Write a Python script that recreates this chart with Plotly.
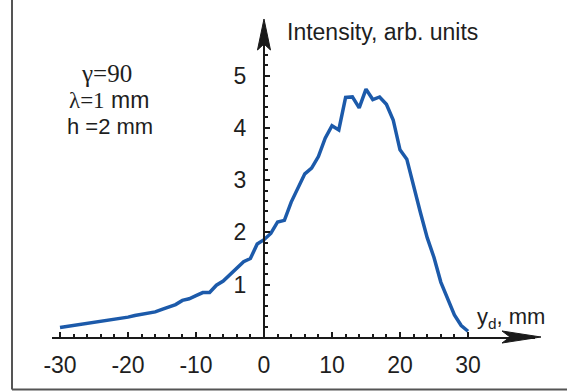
import plotly.graph_objects as go

# ---- data ----
y_d = list(range(-30, 31))
intensity = [0.18, 0.20, 0.22, 0.24, 0.25, 0.28, 0.30, 0.32, 0.34, 0.36,
             0.38, 0.41, 0.43, 0.45, 0.48, 0.53, 0.57, 0.62, 0.70, 0.73,
             0.79, 0.85, 0.85, 0.99, 1.07, 1.20, 1.31, 1.44, 1.50, 1.78,
             1.86, 1.98, 2.20, 2.23, 2.58, 2.84, 3.12, 3.23, 3.45, 3.80,
             4.04, 3.96, 4.58, 4.59, 4.38, 4.74, 4.54, 4.59, 4.45, 4.15,
             3.58, 3.40, 2.86, 2.38, 1.90, 1.52, 1.05, 0.72, 0.42, 0.22, 0.11]
x_ticks = [-30, -20, -10, 0, 10, 20, 30]
x_ticktext = ["-30", "-20", "-10", "0", "10", "20", "30"]
y_ticks = [1, 2, 3, 4, 5]
x_minor = list(range(-30, 31, 2))
y_minor = [round(0.2 * i, 1) for i in range(1, 29)]

# ---- layout geometry ----
W, H = 567, 391
L, R, T, B = 52, 32, 28, 54
PW, PH = W - L - R, H - T - B
X_PX_PER_UNIT = 6.8
Y_PX_PER_UNIT = 52.3
X0_PX = 264
x_range = [(L - X0_PX) / X_PX_PER_UNIT, (W - R - X0_PX) / X_PX_PER_UNIT]
y_range = [0, PH / Y_PX_PER_UNIT]


def px(xp):
    return (xp - L) / PW


def py(yp):
    return (H - B - yp) / PH


FONT = "Liberation Sans, Arial, sans-serif"
SERIF = "Liberation Serif, Times New Roman, serif"
AX = "#1a1a1a"
TXT = "#1e1e1e"

fig = go.Figure()
fig.add_trace(go.Scatter(x=y_d, y=intensity, mode="lines",
                         line=dict(color="#1c5aaa", width=3.5),
                         showlegend=False, hoverinfo="skip"))

fig.update_layout(
    width=W, height=H,
    margin=dict(l=L, r=R, t=T, b=B, autoexpand=False),
    paper_bgcolor="white", plot_bgcolor="white",
    font=dict(family=FONT, size=23, color=TXT),
    xaxis=dict(range=x_range, domain=[0, 1], showgrid=False, zeroline=False,
               showline=True, linecolor=AX, linewidth=2,
               ticks="inside", ticklen=5, tickwidth=2, tickcolor=AX,
               tickvals=x_ticks, ticktext=x_ticktext, ticklabelstandoff=6,
               tickfont=dict(size=23, family=FONT, color=TXT),
               minor=dict(tickvals=x_minor, ticks="inside", ticklen=3,
                          tickwidth=1.5, tickcolor=AX),
               automargin=False, fixedrange=True),
    yaxis=dict(range=y_range, domain=[0, 1], anchor="free",
               position=(X0_PX - L) / PW, showgrid=False, zeroline=False,
               showline=True, linecolor=AX, linewidth=2,
               ticks="inside", ticklen=5, tickwidth=2, tickcolor=AX,
               tickvals=y_ticks, ticklabelstandoff=12,
               tickfont=dict(size=23, family=FONT, color=TXT),
               minor=dict(tickvals=y_minor, ticks="inside", ticklen=3,
                          tickwidth=1.5, tickcolor=AX),
               automargin=False, fixedrange=True),
)

# axis arrowheads
def P(xp, yp):
    return f"{px(xp):.5f},{py(yp):.5f}"

fig.add_shape(type="path", xref="paper", yref="paper",
              path=f"M{P(264, 19)} L{P(257.5, 50)} L{P(264, 44)} L{P(270.5, 50)} Z",
              fillcolor=AX, line=dict(color=AX, width=1))
fig.add_shape(type="path", xref="paper", yref="paper",
              path=f"M{P(541, 337)} L{P(502, 331)} L{P(510, 337)} L{P(502, 343)} Z",
              fillcolor=AX, line=dict(color=AX, width=1))

# frame (left + bottom)
fig.add_shape(type="line", xref="paper", yref="paper",
              x0=px(12), y0=py(-2), x1=px(12), y1=py(389.5),
              line=dict(color="#555", width=2))
fig.add_shape(type="line", xref="paper", yref="paper",
              x0=px(12), y0=py(389.5), x1=px(570), y1=py(389.5),
              line=dict(color="#555", width=2))

# labels
fig.add_annotation(xref="paper", yref="paper", x=px(285), y=py(32),
                   xanchor="left", yanchor="middle", showarrow=False,
                   text="Intensity, arb. units",
                   font=dict(size=23, family=FONT, color=TXT))
fig.add_annotation(xref="paper", yref="paper", x=px(475), y=py(318),
                   xanchor="left", yanchor="middle", showarrow=False,
                   text="y<sub>d</sub>, mm",
                   font=dict(size=22, family=FONT, color=TXT))

fig.add_annotation(xref="paper", yref="paper", x=px(106), y=py(73),
                   xanchor="center", yanchor="middle", showarrow=False,
                   text="γ=90",
                   font=dict(size=25, family=SERIF, color=TXT))
fig.add_annotation(xref="paper", yref="paper", x=px(109), y=py(100),
                   xanchor="center", yanchor="middle", showarrow=False,
                   text=f"<span style='font-family:{SERIF}'>λ=1</span> mm",
                   font=dict(size=23, family=FONT, color=TXT))
fig.add_annotation(xref="paper", yref="paper", x=px(110), y=py(127),
                   xanchor="center", yanchor="middle", showarrow=False,
                   text="h =2 mm",
                   font=dict(size=22, family=FONT, color=TXT))

fig.write_html("out.html")
